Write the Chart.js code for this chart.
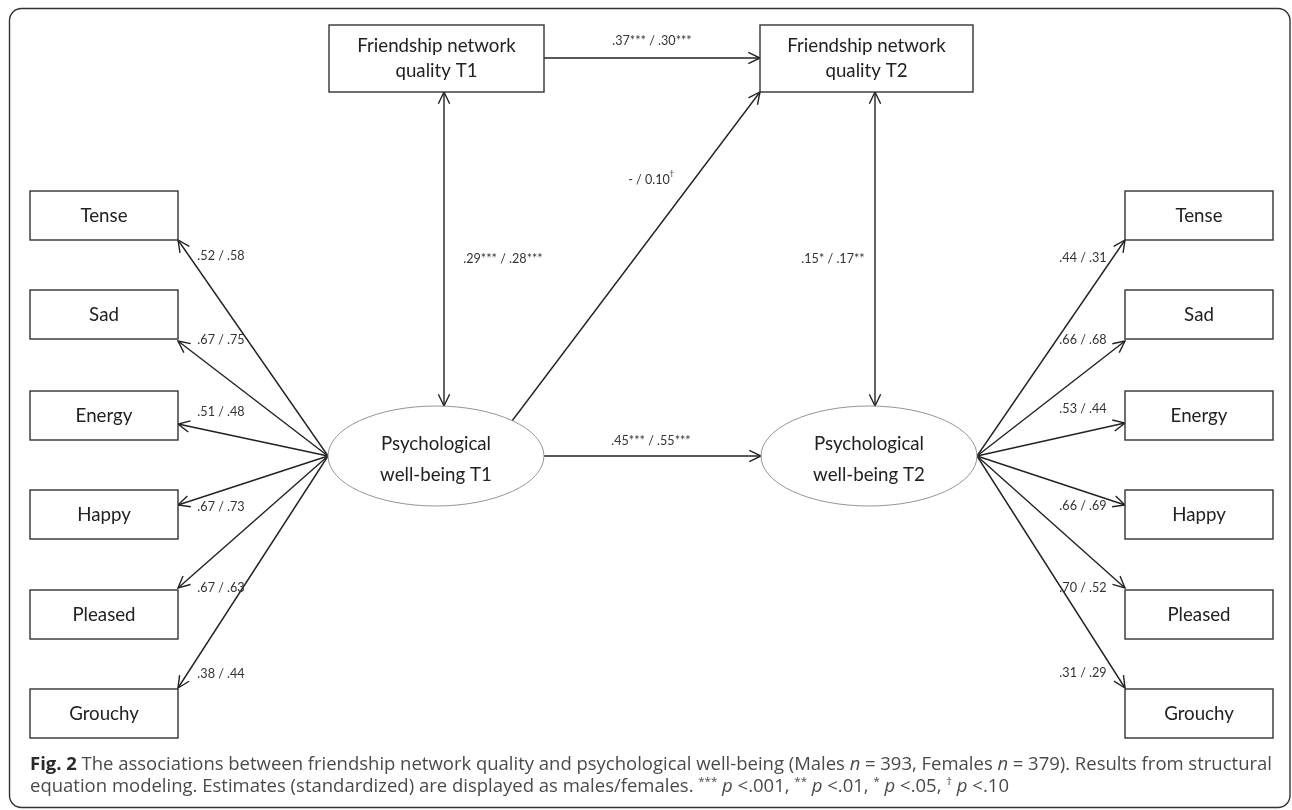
<!DOCTYPE html>
<html>
<head>
<meta charset="utf-8">
<script src="https://cdn.jsdelivr.net/npm/chart.js@4.4.1/dist/chart.umd.min.js"></script>
<style>
  html, body { margin: 0; background: #fff; }
  #wrap { width: 1292px; height: 810px; }
</style>
</head>
<body>
<div id="wrap"><canvas id="c"></canvas></div>
<script>
// ---------- data ----------
const items      = ["Tense", "Sad", "Energy", "Happy", "Pleased", "Grouchy"];
const loadingsT1 = [".52 / .58", ".67 / .75", ".51 / .48", ".67 / .73", ".67 / .63", ".38 / .44"];
const loadingsT2 = [".44 / .31", ".66 / .68", ".53 / .44", ".66 / .69", ".70 / .52", ".31 / .29"];
const friendNodes = [["Friendship network", "quality T1"], ["Friendship network", "quality T2"]];
const wellNodes   = [["Psychological", "well-being T1"], ["Psychological", "well-being T2"]];
const pathFriend = ".37*** / .30***";   // FNQ T1 -> FNQ T2
const pathWell   = ".45*** / .55***";   // PWB T1 -> PWB T2
const pathCross  = ["- / 0.10", "†"];   // PWB T1 -> FNQ T2
const covT1 = ".29*** / .28***";
const covT2 = ".15* / .17**";

// ---------- layout (in scale units, 1 unit = 1px) ----------
const box = { w: 148, h: 49, leftX: 30, rightX: 1125, tops: [191, 290, 391, 490, 590, 689] };
const tipsL = [240, 341, 424, 505, 588, 688];
const tipsR = [240, 341, 423, 505, 588, 688];
const labL = { x: 221, y: [256, 340, 412, 507, 588, 674] };
const labR = { x: 1083, y: [258, 340, 409, 506, 588, 673] };
const topBox = { y: 25, h: 67, x: [329, 760], w: [215, 213] };
const ell = { cx: [436, 869], cy: 456, rx: 108, ry: 50 };
const covX = [444, 875];

const INK = "#222";
const NODE_FONT = "18.7px Lato";
const COEF_FONT = "12.6px Lato";

// edges: [x1, y1, x2, y2, heads]
const edges = [];
items.forEach((_, i) => {
  edges.push([ell.cx[0] - ell.rx, ell.cy, box.leftX + box.w, tipsL[i], "end"]);
  edges.push([ell.cx[1] + ell.rx, ell.cy, box.rightX, tipsR[i], "end"]);
});
edges.push([topBox.x[0] + topBox.w[0], 58, topBox.x[1], 58, "end"]);
edges.push([ell.cx[0] + ell.rx, ell.cy, ell.cx[1] - ell.rx, ell.cy, "end"]);
edges.push([512, 421, topBox.x[1], topBox.y + topBox.h, "end"]);
edges.push([covX[0], topBox.y + topBox.h, covX[0], ell.cy - ell.ry, "both"]);
edges.push([covX[1], topBox.y + topBox.h, covX[1], ell.cy - ell.ry, "both"]);

const datasets = edges.map(e => ({
  type: "line",
  data: [{ x: e[0], y: e[1] }, { x: e[2], y: e[3] }],
  borderColor: INK, borderWidth: 1.4, pointRadius: 0, fill: false, tension: 0
}));

// ---------- drawing helpers ----------
function arrowHead(ctx, x1, y1, x2, y2) {
  const a = Math.atan2(y2 - y1, x2 - x1), L = 13, s = 0.45;
  ctx.beginPath();
  ctx.moveTo(x2 - L * Math.cos(a - s), y2 - L * Math.sin(a - s));
  ctx.lineTo(x2, y2);
  ctx.lineTo(x2 - L * Math.cos(a + s), y2 - L * Math.sin(a + s));
  ctx.stroke();
}
function centerText(ctx, lines, cx, cy, gap) {
  const y0 = cy - (lines.length - 1) * gap / 2;
  lines.forEach((t, i) => ctx.fillText(t, cx, y0 + i * gap));
}

// caption runs: [text, style]  style: n normal, b bold, i italic, s superscript
const caption1 = [["Fig. 2", "b"], [" The associations between friendship network quality and psychological well-being (Males ", "n"],
  ["n", "i"], [" = 393, Females ", "n"], ["n", "i"], [" = 379). Results from structural", "n"]];
const caption2 = [["equation modeling. Estimates (standardized) are displayed as males/females. ", "n"],
  ["***", "s"], [" ", "n"], ["p", "i"], [" <.001, ", "n"], ["**", "s"], [" ", "n"], ["p", "i"], [" <.01, ", "n"],
  ["*", "s"], [" ", "n"], ["p", "i"], [" <.05, ", "n"], ["†", "s"], [" ", "n"], ["p", "i"], [" <.10", "n"]];
const CAP = 18.5;
function capFont(st) {
  if (st === "b") return `bold ${CAP}px "Open Sans"`;
  if (st === "i") return `italic ${CAP}px "Open Sans"`;
  if (st === "s") return `${CAP * 0.62}px "Open Sans"`;
  return `${CAP}px "Open Sans"`;
}
function drawRuns(ctx, runs, x, y, width) {
  // split into tokens so the line can be justified
  const toks = [];
  runs.forEach(([t, st]) => t.split(/( )/).forEach(p => { if (p) toks.push([p, st]); }));
  let nat = 0, spaces = 0;
  toks.forEach(([t, st]) => { ctx.font = capFont(st); nat += ctx.measureText(t).width; if (t === " ") spaces++; });
  const extra = width ? (width - nat) / spaces : 0;
  let cx = x;
  toks.forEach(([t, st]) => {
    ctx.font = capFont(st);
    ctx.fillStyle = st === "b" ? "#2a2a2a" : "#4a4a4a";
    ctx.fillText(t, cx, st === "s" ? y - 7 : y);
    cx += ctx.measureText(t).width + (t === " " ? extra : 0);
  });
}

const diagram = {
  id: "diagram",
  afterDatasetsDraw(chart) {
    const ctx = chart.ctx, xs = chart.scales.x, ys = chart.scales.y;
    const X = v => xs.getPixelForValue(v), Y = v => ys.getPixelForValue(v);
    ctx.save();

    // frame
    ctx.strokeStyle = "#333"; ctx.lineWidth = 1.4;
    ctx.beginPath();
    ctx.roundRect(X(9.5), Y(8.5), X(1290) - X(9.5), Y(807.5) - Y(8.5), 12);
    ctx.stroke();

    // arrow heads
    ctx.strokeStyle = INK; ctx.lineWidth = 1.4;
    edges.forEach(([x1, y1, x2, y2, h]) => {
      arrowHead(ctx, X(x1), Y(y1), X(x2), Y(y2));
      if (h === "both") arrowHead(ctx, X(x2), Y(y2), X(x1), Y(y1));
    });

    // indicator boxes
    ctx.textAlign = "center"; ctx.textBaseline = "middle";
    items.forEach((name, i) => {
      [box.leftX, box.rightX].forEach(bx => {
        ctx.fillStyle = "#fff"; ctx.strokeStyle = "#333"; ctx.lineWidth = 1.4;
        ctx.fillRect(X(bx), Y(box.tops[i]), box.w, box.h);
        ctx.strokeRect(X(bx), Y(box.tops[i]), box.w, box.h);
        ctx.fillStyle = INK; ctx.font = NODE_FONT;
        ctx.fillText(name, X(bx + box.w / 2), Y(box.tops[i] + box.h / 2));
      });
    });

    // friendship network boxes
    friendNodes.forEach((lines, i) => {
      ctx.fillStyle = "#fff"; ctx.strokeStyle = "#333"; ctx.lineWidth = 1.4;
      ctx.fillRect(X(topBox.x[i]), Y(topBox.y), topBox.w[i], topBox.h);
      ctx.strokeRect(X(topBox.x[i]), Y(topBox.y), topBox.w[i], topBox.h);
      ctx.fillStyle = INK; ctx.font = NODE_FONT;
      centerText(ctx, lines, X(topBox.x[i] + topBox.w[i] / 2), Y(topBox.y + topBox.h / 2), 25);
    });

    // latent ellipses
    wellNodes.forEach((lines, i) => {
      ctx.beginPath();
      ctx.ellipse(X(ell.cx[i]), Y(ell.cy), ell.rx, ell.ry, 0, 0, Math.PI * 2);
      ctx.fillStyle = "#fff"; ctx.fill();
      ctx.strokeStyle = "#888"; ctx.lineWidth = 0.9; ctx.stroke();
      ctx.fillStyle = INK; ctx.font = NODE_FONT;
      centerText(ctx, lines, X(ell.cx[i]), Y(ell.cy + 3), 31);
    });

    // coefficients
    ctx.fillStyle = "#333"; ctx.font = COEF_FONT;
    loadingsT1.forEach((t, i) => ctx.fillText(t, X(labL.x), Y(labL.y[i])));
    loadingsT2.forEach((t, i) => ctx.fillText(t, X(labR.x), Y(labR.y[i])));
    ctx.fillText(pathFriend, X(652), Y(41));
    ctx.fillText(pathWell, X(651), Y(441));
    ctx.fillText(covT1, X(503), Y(259));
    ctx.fillText(covT2, X(833), Y(259));
    ctx.fillText(pathCross[0], X(649), Y(180));
    const w = ctx.measureText(pathCross[0]).width;
    ctx.font = "8px Lato";
    ctx.fillText(pathCross[1], X(649) + w / 2 + 2, Y(173));

    // caption
    ctx.textAlign = "left"; ctx.textBaseline = "alphabetic";
    drawRuns(ctx, caption1, X(30), Y(770), X(1272) - X(30));
    drawRuns(ctx, caption2, X(30), Y(792), 0);
    ctx.restore();
  }
};

new Chart(document.getElementById("c"), {
  type: "scatter",
  data: { datasets },
  options: {
    responsive: true, maintainAspectRatio: false, animation: false,
    layout: { padding: 0 },
    plugins: { legend: { display: false }, tooltip: { enabled: false } },
    scales: {
      x: { type: "linear", min: 0, max: 1292, display: false },
      y: { type: "linear", min: 0, max: 810, reverse: true, display: false }
    }
  },
  plugins: [diagram]
});
</script>
</body>
</html>
